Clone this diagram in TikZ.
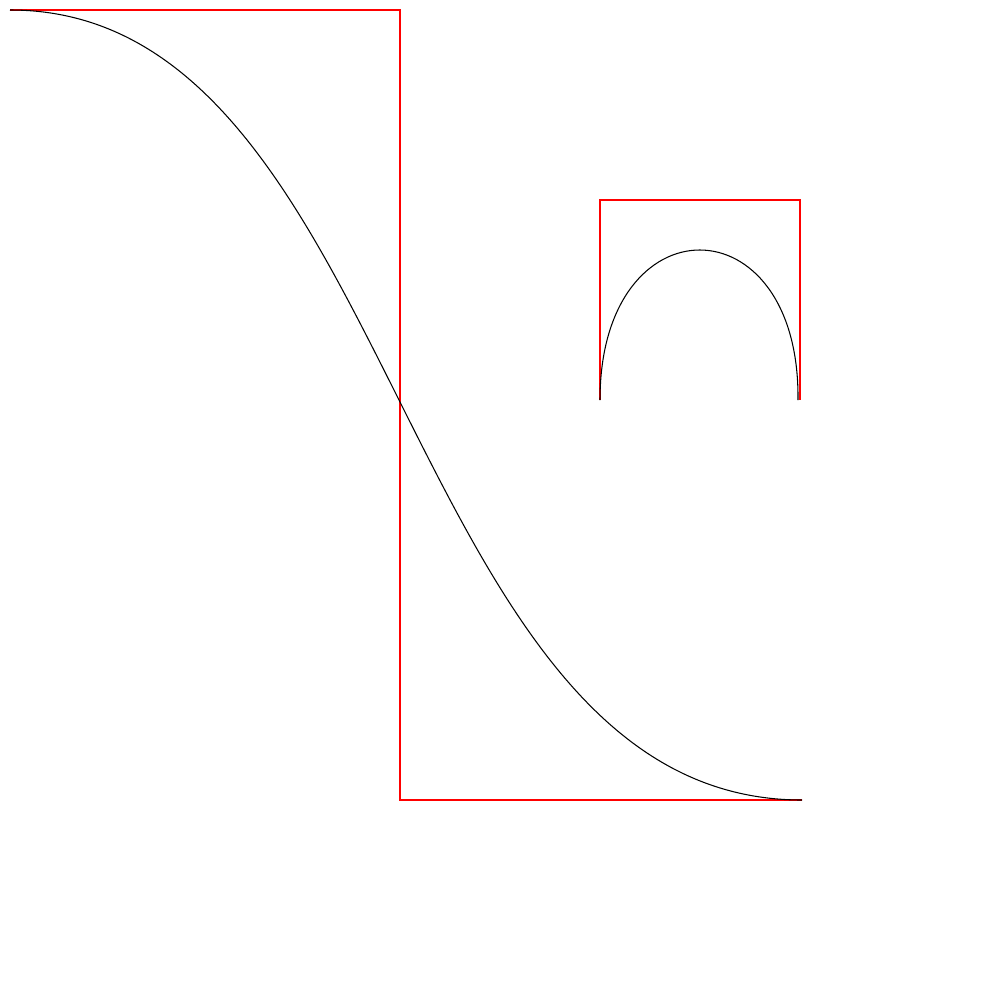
\documentclass[tikz,border=0pt]{standalone}
\usepackage{tikz}
\usetikzlibrary{calc}

\begin{document}
\begin{tikzpicture}[
    x=0.01cm, y=-0.01cm,
    hull/.style  = {draw=red, line width=0.3pt},
    curve/.style = {draw=black, line width=0.3pt},
]

%% ── Canvas ──────────────────────────────────────────────────────────────────
\useasboundingbox (0,0) rectangle (1000,1000);

%% ── Control points ──────────────────────────────────────────────────────────
\coordinate (sA) at (10,10);
\coordinate (sB) at (400,10);
\coordinate (sC) at (400,800);
\coordinate (sD) at (802,800);

\coordinate (aA) at (600,400);
\coordinate (aB) at (600,200);
\coordinate (aC) at (800,200);
\coordinate (aD) at (800,400);

%% ── Control polygons ────────────────────────────────────────────────────────
\draw[hull] (sA) -- (sB) -- (sC) -- (sD);
\draw[hull] (aA) -- (aB) -- (aC) -- (aD);

%% ── Curves ──────────────────────────────────────────────────────────────────
\draw[curve] (sA) .. controls (sB) and (sC) .. (sD);
\draw[curve] (aA) .. controls (aB) and (aC) .. ($(aD)+(-2,0)$);

\end{tikzpicture}
\end{document}
